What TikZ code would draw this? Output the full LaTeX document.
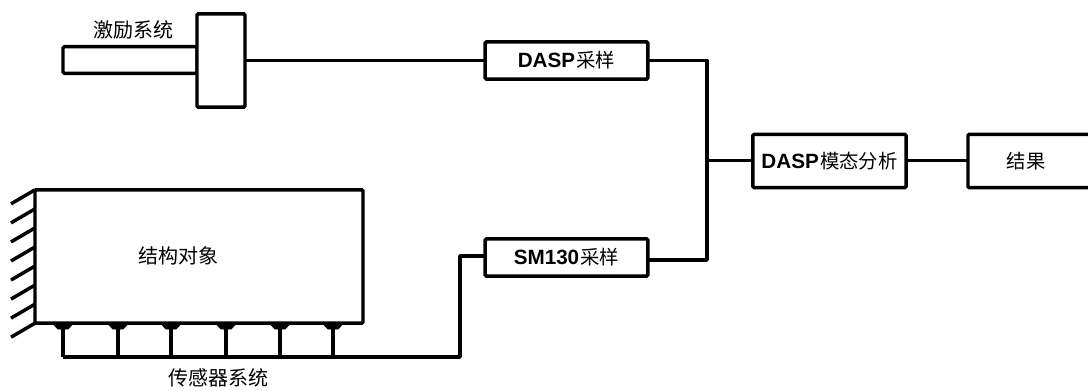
\documentclass[tikz,border=0pt]{standalone}
\usepackage{fontspec}
\setmainfont{Liberation Sans}
\newfontfamily\cjk{Noto Sans CJK SC}
\newcommand{\zh}[1]{{\fontsize{14.5pt}{17pt}\selectfont\cjk #1}}
\usetikzlibrary{positioning,shapes.geometric,calc}

\begin{document}
\begin{tikzpicture}[
    x=0.75pt, y=-0.75pt,
    box/.style={draw, line width=2.6pt, rounded corners=1pt, fill=white, inner sep=0pt, outer sep=0pt, align=center, font=\fontsize{15.5pt}{17pt}\selectfont},
    sensor/.style={trapezium, shape border rotate=180, trapezium angle=65, trapezium stretches=true, fill=black, draw=black, line width=0.4pt, inner sep=1pt, outer sep=0pt, minimum width=15pt, minimum height=4pt},
    wire/.style={line width=2.6pt, line join=round},
    hatch/.style={line width=2.6pt},
    caption/.style={font=\fontsize{15pt}{17pt}\selectfont\cjk},
]
\useasboundingbox (0,0) rectangle (1088,390);

% === Excitation system ===
\node[box, minimum width=100.5pt, minimum height=20pt] (rod) at (130,60) {};
\node[box, minimum width=36pt, minimum height=70pt] (exciter) at (221,60.5) {};
\node[caption] (exlabel) at (133,30) {激励系统};

% === Sampling boxes ===
\node[box, minimum width=122pt, minimum height=28pt] (dasp) at (566.5,60.5) {\textbf{DASP}\hspace{1pt}\zh{采样}};
\node[box, minimum width=122pt, minimum height=28pt] (sm) at (566.5,257.5) {\textbf{SM130}\hspace{1pt}\zh{采样}};

% === Analysis and result ===
\node[box, minimum width=115pt, minimum height=40pt] (modal) at (829.5,161) {\textbf{DASP}\hspace{1pt}\zh{模态分析}};
\node[box, minimum width=93pt, minimum height=40pt] (result) at (1030,161) {\zh{结果}\hspace*{6pt}};

% === Structure with fixed wall ===
\node[box, minimum width=246pt, minimum height=100pt] (obj) at (199,256.5) {};
\node[caption] (objlabel) at (178,256) {结构对象};
\foreach \t in {0,...,7} {
    \draw[hatch] ($(obj.north west)!\t/7!(obj.south west)$) -- ++(-24,14);
}

% === Sensors ===
\coordinate (bus0) at (63,357);
\coordinate (busend) at (460,357);
\foreach \i/\px in {1/63,2/118,3/171,4/226,5/280,6/333} {
    \node[sensor] (s\i) at (\px,326.5) {};
    \coordinate (b\i) at (\px,357);
    \draw[wire] (s\i.center) -- (b\i);
}
\node[caption] (senslabel) at (218,378) {传感器系统};

% === Connections ===
\coordinate (smin) at (485,256);
\coordinate (smout) at (648,260);
\coordinate (join) at (707,160.7);
\draw[wire] (bus0) -- (busend) -- (460,256) -- (smin);
\draw[wire] (exciter.east) -- (dasp.west);
\draw[wire] (dasp.east) -- (dasp.east -| join) -- (join) -- (smout -| join) -- (smout);
\draw[wire] (join) -- (join -| modal.west);
\draw[wire] (modal.east |- join) -- (join -| result.west);

\end{tikzpicture}
\end{document}
